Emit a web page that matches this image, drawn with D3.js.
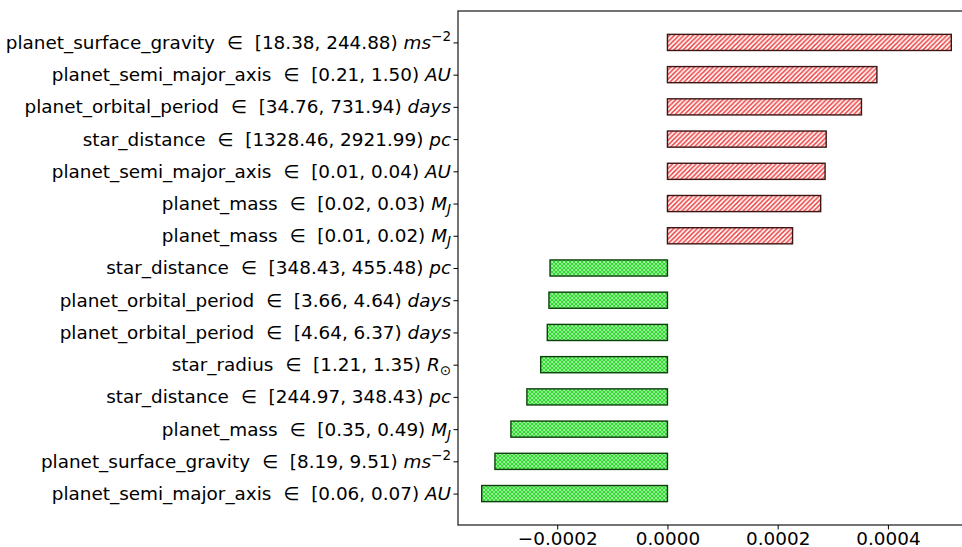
<!DOCTYPE html>
<html>
<head>
<meta charset="utf-8">
<script src="https://cdn.jsdelivr.net/npm/d3@7"></script>
<style>
  body { margin: 0; background: white; }
  svg { display: block; font-family: "DejaVu Sans", sans-serif; }
</style>
</head>
<body>
<script>
// rows from top to bottom
const features = ["planet_surface_gravity", "planet_semi_major_axis", "planet_orbital_period", "star_distance",
    "planet_semi_major_axis", "planet_mass", "planet_mass", "star_distance", "planet_orbital_period",
    "planet_orbital_period", "star_radius", "star_distance", "planet_mass", "planet_surface_gravity",
    "planet_semi_major_axis"];
const lows = ["18.38", "0.21", "34.76", "1328.46", "0.01", "0.02", "0.01", "348.43", "3.66", "4.64", "1.21", "244.97", "0.35", "8.19", "0.06"];
const highs = ["244.88", "1.50", "731.94", "2921.99", "0.04", "0.03", "0.02", "455.48", "4.64", "6.37", "1.35", "348.43", "0.49", "9.51", "0.07"];
// unit markup: ^{..} superscript, _.. subscript
const units = ["ms^{−2}", "AU", "days", "pc", "AU", "M_J", "M_J", "pc", "days", "days", "R_⊙", "pc", "M_J", "ms^{−2}", "AU"];
const values = [0.000515, 0.000380, 0.000352, 0.000288, 0.000286, 0.000278, 0.000227,
    -0.000213, -0.000215, -0.000218, -0.000230, -0.000255, -0.000284, -0.000313, -0.000337];
const xTicks = [-0.0002, 0, 0.0002, 0.0004];

const width = 962, height = 547;
const marginLeft = 458, marginTop = 11, plotBottom = 525;

const x = d3.scaleLinear()
    .domain([-0.00038, 0.000558])
    .range([marginLeft, 975]);

const y = d3.scaleLinear()
    .domain([-0.975, 14.975])
    .range([marginTop, plotBottom]);

const svg = d3.select("body").append("svg")
    .attr("width", width)
    .attr("height", height)
    .attr("viewBox", [0, 0, width, height]);

// hatch patterns
const defs = svg.append("defs");
const red = defs.append("pattern")
    .attr("id", "hatchRed")
    .attr("patternUnits", "userSpaceOnUse")
    .attr("width", 4.7).attr("height", 4.7);
red.append("rect").attr("width", 4.7).attr("height", 4.7).attr("fill", "white");
red.append("path")
    .attr("d", "M0,4.7 L4.7,0 M-1,1 L1,-1 M3.7,5.7 L5.7,3.7")
    .attr("stroke", "#ee4444").attr("stroke-width", 1.5);

const green = defs.append("pattern")
    .attr("id", "hatchGreen")
    .attr("patternUnits", "userSpaceOnUse")
    .attr("width", 4).attr("height", 4);
green.append("rect").attr("width", 4).attr("height", 4).attr("fill", "white");
green.append("path")
    .attr("d", "M0,4 L4,0 M-1,1 L1,-1 M3,5 L5,3 M0,0 L4,4 M-1,3 L1,5 M3,-1 L5,1")
    .attr("stroke", "#2edb2e").attr("stroke-width", 1.5);

const barH = y(0.25) - y(0);

svg.append("g")
    .selectAll("rect")
    .data(values)
    .join("rect")
    .attr("x", d => x(Math.min(0, d)))
    .attr("y", (d, i) => y(i) - barH)
    .attr("width", d => Math.abs(x(d) - x(0)))
    .attr("height", barH * 2)
    .attr("fill", d => d > 0 ? "url(#hatchRed)" : "url(#hatchGreen)")
    .attr("stroke", d => d > 0 ? "#3d1515" : "#0d400d")
    .attr("stroke-width", 1.4);

// frame
svg.append("rect")
    .attr("x", marginLeft).attr("y", marginTop)
    .attr("width", x.range()[1] - marginLeft)
    .attr("height", plotBottom - marginTop)
    .attr("fill", "none")
    .attr("stroke", "black")
    .attr("stroke-width", 1.1);

// x axis
svg.append("g")
    .attr("transform", `translate(0,${plotBottom})`)
    .call(d3.axisBottom(x).tickValues(xTicks).tickSize(4.5).tickPadding(2)
        .tickFormat(d => d3.format(".4f")(d).replace("-", "−")))
    .call(g => g.select(".domain").remove())
    .call(g => g.selectAll("text").style("font-size", "18.4px").attr("fill", "black")
        .style("font-family", "DejaVu Sans"));

// y axis ticks
svg.append("g")
    .attr("transform", `translate(${marginLeft},0)`)
    .call(d3.axisLeft(y).tickValues(d3.range(features.length)).tickSize(4.5))
    .call(g => g.select(".domain").remove())
    .call(g => g.selectAll(".tick text").remove());

// y labels with italic units
const labels = svg.append("g")
    .selectAll("text")
    .data(features)
    .join("text")
    .attr("x", marginLeft - 7)
    .attr("y", (d, i) => y(i))
    .attr("dy", "0.35em")
    .attr("text-anchor", "end")
    .style("font-size", "18.4px")
    .attr("fill", "black");

labels.each(function(d, i) {
    const t = d3.select(this);
    t.append("tspan").text(d + " ");
    t.append("tspan").attr("dx", 6).text("∈");
    t.append("tspan").attr("dx", 6).text(` [${lows[i]}, ${highs[i]}) `);
    const u = units[i];
    const sup = u.match(/^(.*)\^\{(.*)\}$/);
    const sub = u.match(/^(.*)_(.*)$/);
    if (sup) {
        t.append("tspan").style("font-style", "italic").text(sup[1]);
        t.append("tspan").attr("dy", "-0.55em").style("font-size", "13.5px").text(sup[2]);
    } else if (sub) {
        t.append("tspan").style("font-style", "italic").text(sub[1]);
        t.append("tspan").attr("dy", "0.3em").style("font-size", "13.5px")
            .style("font-style", sub[2] === "⊙" ? "normal" : "italic")
            .text(sub[2]);
    } else {
        t.append("tspan").style("font-style", "italic").text(u);
    }
});
</script>
</body>
</html>
